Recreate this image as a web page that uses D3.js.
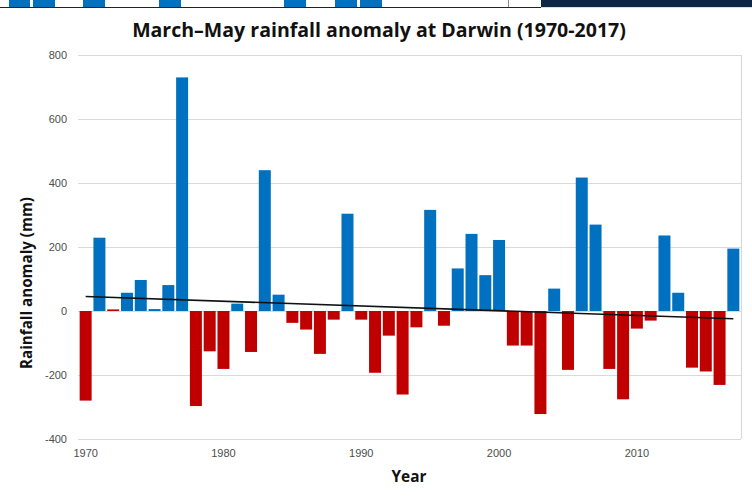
<!DOCTYPE html>
<html>
<head>
<meta charset="utf-8">
<script src="https://cdn.jsdelivr.net/npm/d3@7"></script>
<style>
  body { margin: 0; background: #fff; }
  svg { display: block; }
</style>
</head>
<body>
<div id="main"></div>
<script>
//data
const years = d3.range(1970, 2018);
const anomalies = [
  -280, 229, 5, 57, 97, 6, 81, 730, -297, -126,
  -181, 23, -128, 440, 51, -37, -58, -134, -27, 304,
  -27, -193, -77, -261, -51, 316, -46, 133, 241, 112,
  222, -108, -108, -322, 70, -184, 417, 270, -181, -276,
  -55, -30, 236, 57, -177, -189, -231, 195
];
// years drawn in red although the bar sits just above zero
const redOverride = [1972];
const yTicks = [-400, -200, 0, 200, 400, 600, 800];
const xTickYears = [1970, 1980, 1990, 2000, 2010];

const dataset = years.map((yr, i) => ({year: yr, value: anomalies[i]}));

//constants
const W = 752, H = 497;
const margin = {top: 55, right: 11, bottom: 58, left: 78};
const blue = '#0070c0', red = '#c00000';

const svg = d3.select('#main')
  .append('svg')
  .attr('width', W)
  .attr('height', H);

//scales
const x = d3.scaleBand()
  .domain(years)
  .range([margin.left, W - margin.right])
  .paddingInner(0.13)
  .paddingOuter(0.12);

const y = d3.scaleLinear()
  .domain([-400, 800])
  .range([H - margin.bottom, margin.top]);

//cropped strip from the page above the chart
const strip = svg.append('g');
[[9, 21], [33, 22], [83, 22], [159, 22], [284, 22], [335, 22], [360, 22]].forEach(([sx, sw]) => {
  strip.append('rect').attr('x', sx).attr('y', 0).attr('width', sw).attr('height', 7).attr('fill', blue);
});
strip.append('rect').attr('x', 541).attr('y', 0).attr('width', W - 541).attr('height', 7).attr('fill', '#0c2646');
strip.append('line').attr('x1', 0).attr('x2', 541).attr('y1', 7.5).attr('y2', 7.5).attr('stroke', '#222').attr('stroke-width', 1.2);
strip.append('line').attr('x1', 508.5).attr('x2', 508.5).attr('y1', 0).attr('y2', 7).attr('stroke', '#888');
strip.append('line').attr('x1', 541).attr('x2', W).attr('y1', 7.5).attr('y2', 7.5).attr('stroke', '#ddd');

//gridlines
svg.append('g')
  .selectAll('line')
  .data(yTicks)
  .join('line')
  .attr('x1', margin.left)
  .attr('x2', W - margin.right)
  .attr('y1', d => Math.round(y(d)) + 0.5)
  .attr('y2', d => Math.round(y(d)) + 0.5)
  .attr('stroke', '#d9d9d9')
  .attr('stroke-width', 1.2);

svg.append('line')
  .attr('x1', W - margin.right + 0.5)
  .attr('x2', W - margin.right + 0.5)
  .attr('y1', y(800))
  .attr('y2', y(-400))
  .attr('stroke', '#d9d9d9')
  .attr('stroke-width', 1.2);

//bars
svg.append('g')
  .selectAll('rect')
  .data(dataset)
  .join('rect')
  .attr('x', d => x(d.year))
  .attr('width', x.bandwidth())
  .attr('y', d => y(Math.max(0, d.value)))
  .attr('height', d => Math.abs(y(d.value) - y(0)))
  .attr('fill', d => (d.value < 0 || redOverride.includes(d.year)) ? red : blue);

//linear trend
const mx = d3.mean(dataset, d => d.year);
const my = d3.mean(dataset, d => d.value);
const slope = d3.sum(dataset, d => (d.year - mx) * (d.value - my)) /
  d3.sum(dataset, d => (d.year - mx) ** 2);
const trend = yr => my + slope * (yr - mx);

svg.append('line')
  .attr('x1', x(years[0]) + x.bandwidth() / 2)
  .attr('x2', x(years[years.length - 1]) + x.bandwidth() / 2)
  .attr('y1', y(trend(years[0])))
  .attr('y2', y(trend(years[years.length - 1])))
  .attr('stroke', '#111')
  .attr('stroke-width', 1.6);

//axes labels
const tickFont = '"Liberation Sans", Arial, sans-serif';

svg.append('g')
  .selectAll('text')
  .data(yTicks)
  .join('text')
  .attr('x', margin.left - 11)
  .attr('y', d => y(d))
  .attr('dy', '0.35em')
  .attr('text-anchor', 'end')
  .style('font-family', tickFont)
  .style('font-size', '11px')
  .attr('fill', '#4d4d4d')
  .text(d => d);

svg.append('g')
  .selectAll('text')
  .data(xTickYears)
  .join('text')
  .attr('x', d => x(d) + x.bandwidth() / 2)
  .attr('y', y(-400) + 18)
  .attr('text-anchor', 'middle')
  .style('font-family', tickFont)
  .style('font-size', '11px')
  .attr('fill', '#4d4d4d')
  .text(d => d);

//titles, sized to the widths in the original
function fitText(sel, width) {
  const len = sel.node().getComputedTextLength();
  const fs = parseFloat(sel.style('font-size'));
  sel.style('font-size', (fs * width / len).toFixed(2) + 'px');
}

const titleFont = '"Open Sans", "Noto Sans", sans-serif';

const title = svg.append('text')
  .attr('x', 379)
  .attr('y', 37)
  .attr('text-anchor', 'middle')
  .style('font-family', titleFont)
  .style('font-weight', 'bold')
  .style('font-size', '16px')
  .attr('fill', '#111')
  .text('March–May rainfall anomaly at Darwin (1970-2017)');
fitText(title, 494);

const yTitle = svg.append('text')
  .attr('transform', 'translate(32, 283) rotate(-90)')
  .attr('text-anchor', 'middle')
  .style('font-family', titleFont)
  .style('font-weight', 'bold')
  .style('font-size', '15px')
  .attr('fill', '#111')
  .text('Rainfall anomaly (mm)');
fitText(yTitle, 172);

const xTitle = svg.append('text')
  .attr('x', 409)
  .attr('y', 482)
  .attr('text-anchor', 'middle')
  .style('font-family', titleFont)
  .style('font-weight', 'bold')
  .style('font-size', '15px')
  .attr('fill', '#111')
  .text('Year');
fitText(xTitle, 35);
</script>
</body>
</html>
